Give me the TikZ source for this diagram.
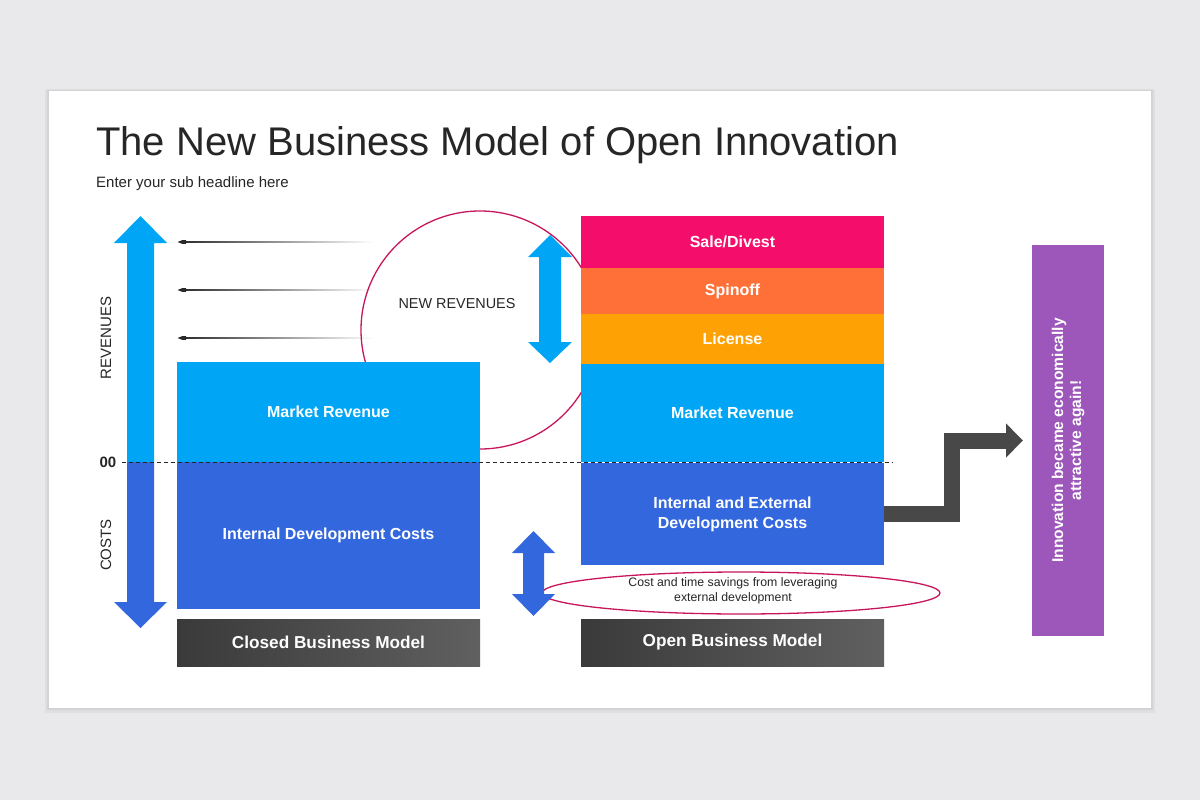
\documentclass[tikz,border=0pt]{standalone}
\usepackage{fontspec}
\setmainfont{Liberation Sans}
\usetikzlibrary{arrows.meta,fadings,shapes.geometric,calc}

\definecolor{pagegray}{RGB}{233,232,234}
\definecolor{revblue}{RGB}{0,166,245}
\definecolor{costblue}{RGB}{51,103,221}
\definecolor{salepink}{RGB}{244,13,107}
\definecolor{spinorange}{RGB}{254,112,56}
\definecolor{licamber}{RGB}{254,161,4}
\definecolor{innopurple}{RGB}{157,86,185}
\definecolor{ringred}{RGB}{200,22,92}
\definecolor{inkgray}{RGB}{38,38,38}
\definecolor{modeldark}{RGB}{58,58,58}
\definecolor{modellight}{RGB}{96,96,96}
\definecolor{stepgray}{RGB}{72,72,72}

\tikzfading[name=fade tail, left color=transparent!0, middle color=transparent!25,
  right color=transparent!100]

\tikzset{
  band/.style={inner sep=0pt, outer sep=0pt, minimum width=303pt, text=white,
    align=center, font=\bfseries\fontsize{16}{20}\selectfont},
  modelbox/.style={band, left color=modeldark, right color=modellight,
    minimum height=47pt, font=\bfseries\fontsize{17.2}{20}\selectfont},
  axislabel/.style={text=inkgray, inner sep=0pt, rotate=90, font=\fontsize{15}{18}\selectfont},
  feeder/.style={draw=inkgray, line width=1.4pt, -{Latex[length=9pt,width=8pt]},
    path fading=fade tail},
  zeroline/.style={draw=inkgray, line width=0.8pt, dash pattern=on 4pt off 3pt},
  ring/.style={draw=ringred, line width=1.3pt},
  steparrow/.style={draw=stepgray, line width=16pt, line join=miter,
    -{Triangle[length=17pt,width=33pt]}, shorten >=9pt},
}

\begin{document}
\begin{tikzpicture}[x=1pt,y=-1pt]
  \useasboundingbox (0,0) rectangle (1200,800);
  \fill[pagegray] (0,0) rectangle (1200,800);

  % slide with soft shadow
  \fill[black,opacity=0.04] (45,89) rectangle (1155,713);
  \fill[black,opacity=0.05] (47,90) rectangle (1153,710);
  \fill[white] (49,91) rectangle (1151,708);

  \node[anchor=base west, inner sep=0pt, text=inkgray, font=\fontsize{40}{48}\selectfont]
    (title) at (96,155) {The New Business Model of Open Innovation};
  \node[anchor=base west, inner sep=0pt, text=inkgray, font=\fontsize{15}{18}\selectfont]
    (subtitle) at (96,187) {Enter your sub headline here};

  % new revenues circle, partly hidden by the boxes
  \draw[ring] (480,330) circle (119);
  \node[text=inkgray, font=\fontsize{14.4}{17}\selectfont] (newrev) at (457,304) {NEW REVENUES};

  \foreach \y [count=\i] in {242,290,338} {
    \coordinate (feed\i) at (372,\y);
    \coordinate (tip\i) at (177,\y);
    \draw[feeder] (feed\i) -- (tip\i);
  }

  % revenue / cost axis
  \fill[revblue] (127,462) -- (127,243) -- (114,243) -- (140.5,216) -- (167,243)
    -- (154,243) -- (154,462) -- cycle;
  \fill[costblue] (127,462) -- (127,602) -- (114,602) -- (140.5,628) -- (167,602)
    -- (154,602) -- (154,462) -- cycle;
  \node[axislabel] (revlabel) at (106,338) {REVENUES};
  \node[axislabel] (costlabel) at (106,545) {COSTS};

  % closed business model
  \node[band, fill=revblue, minimum height=100pt] (closedrev) at (328.5,412) {Market Revenue};
  \node[band, fill=costblue, minimum height=147pt] (closedcost) at (328.5,535.5) {Internal Development Costs};
  \node[modelbox] (closed) at (328.5,642.5) {Closed Business Model};

  % open business model
  \node[band, fill=salepink, minimum height=52pt] (sale) at (732.5,242) {Sale/Divest};
  \node[band, fill=spinorange, minimum height=46pt] (spinoff) at (732.5,291) {Spinoff};
  \node[band, fill=licamber, minimum height=50pt] (license) at (732.5,339) {License};
  \node[band, fill=revblue, minimum height=98pt] (openrev) at (732.5,413) {Market Revenue};
  \node[band, fill=costblue, minimum height=102pt] (opencost) at (732.5,514)
    {Internal and External\\Development Costs};
  \node[modelbox] (open) at (732.5,642.5) {Open Business Model};

  % zero line
  \node[inner sep=0pt, text=inkgray, font=\bfseries\fontsize{15}{18}\selectfont] (zero) at (108,462) {00};
  \coordinate (zeroend) at (892,462);
  \draw[zeroline] ($(zero.east)+(5,0)$) -- (zeroend);

  % new revenues span
  \fill[revblue] (550,235) -- (572,257) -- (561,257) -- (561,342) -- (572,342)
    -- (550,363) -- (528,342) -- (539,342) -- (539,257) -- (528,257) -- cycle;

  % savings
  \node[ring, ellipse, minimum width=398pt, minimum height=42pt] (saving) at (741,593) {};
  \fill[costblue] (533.5,531) -- (555,553) -- (544,553) -- (544,594) -- (555,594)
    -- (533.5,616) -- (512,594) -- (523,594) -- (523,553) -- (512,553) -- cycle;
  \node[text=inkgray, align=center, font=\fontsize{12.3}{15}\selectfont] (savetext) at (733,591)
    {Cost and time savings from leveraging\\external development};

  % outcome
  \node[band, fill=innopurple, minimum width=391pt, minimum height=72pt, rotate=90,
    font=\bfseries\fontsize{15.6}{18}\selectfont] (outcome) at (1068,440.5)
    {Innovation became economically\\attractive again!};
  \coordinate (stepmid) at ($(opencost.east)!0.46!(outcome.north)$);
  \draw[steparrow] (opencost.east) -| (stepmid) |- (outcome.north);
\end{tikzpicture}
\end{document}
